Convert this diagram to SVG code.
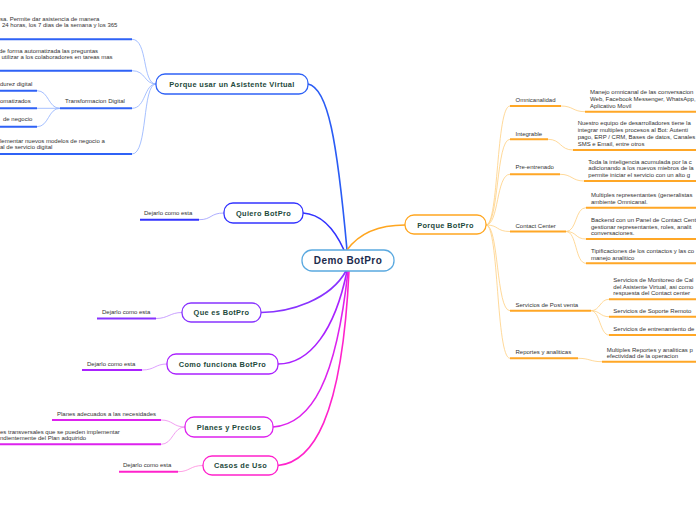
<svg xmlns="http://www.w3.org/2000/svg" width="696" height="520" viewBox="0 0 696 520">
<style>
.t{font-family:"Liberation Sans",Arial,sans-serif;font-size:6px;fill:#333}
.n{font-family:"Liberation Sans",Arial,sans-serif;font-weight:bold;font-size:7.4px;letter-spacing:0.35px;fill:#1d4a3c;text-anchor:middle}
.c{font-family:"Liberation Sans",Arial,sans-serif;font-weight:bold;font-size:10px;letter-spacing:0.4px;fill:#1c2b4d;text-anchor:middle}
.box{fill:#fff;stroke-width:1.3}
.ul{fill:none;stroke-width:2}
.lc{fill:none;stroke-width:0.8}
.mc{fill:none;stroke-width:1.6}
</style>
<rect width="696" height="520" fill="#fff"/>
<g id="connectors">
<path class="mc" stroke="#2a5cf5" d="M347,250 C337,140 328,88 308,84"/>
<path class="mc" stroke="#3333ff" d="M344,250 C334,228 320,214 303,213"/>
<path class="mc" stroke="#8833ff" d="M346,271 C330,300 290,312 261,312.5"/>
<path class="mc" stroke="#aa22ff" d="M347,271 C335,330 310,364 278,364"/>
<path class="mc" stroke="#dd22ee" d="M348,271 C336,380 312,424 273,427"/>
<path class="mc" stroke="#ff22cc" d="M349,271 C342,420 312,462 278,465.5"/>
<path class="mc" stroke="#ffa620" d="M347,250 C360,232 380,225 405,225"/>
<path class="lc" stroke="#8fb0ff" d="M132,39.3 C148,39.3 142,84 156,84"/>
<path class="lc" stroke="#8fb0ff" d="M132,70.7 C146,70.7 144,84 156,84"/>
<path class="lc" stroke="#8fb0ff" d="M132,108.3 C146,108.3 144,84 156,84"/>
<path class="lc" stroke="#8fb0ff" d="M132,154 C148,154 142,84 156,84"/>
<path class="lc" stroke="#8fb0ff" d="M37,90.7 C49,90.7 48,108.3 60,108.3"/>
<path class="lc" stroke="#8fb0ff" d="M37,108.3 L60,108.3"/>
<path class="lc" stroke="#8fb0ff" d="M37,126.7 C49,126.7 48,108.3 60,108.3"/>
<path class="ul" stroke="#2f62f6" d="M0,39.3 H132 M0,70.7 H132 M60,108.3 H132 M0,154 H132 M0,90.7 H37 M0,108.3 H37 M0,126.7 H37"/>
<path class="lc" stroke="#9999ff" d="M199,219.7 C212,219.7 210,213 224,213"/>
<path class="ul" stroke="#3333ff" d="M140,219.7 H199"/>
<path class="lc" stroke="#bb88ff" d="M156,318.5 C168,318.5 170,312.5 182,312.5"/>
<path class="ul" stroke="#8833ff" d="M97,318.5 H156"/>
<path class="lc" stroke="#d488ff" d="M142,370 C155,370 155,364 167,364"/>
<path class="ul" stroke="#aa22ff" d="M82,370 H142"/>
<path class="lc" stroke="#ee88ee" d="M161,420 C173,420 173,427 185,427"/>
<path class="lc" stroke="#ee88ee" d="M161,444.3 C173,444.3 173,427 185,427"/>
<path class="ul" stroke="#dd22ee" d="M52,420 H161 M0,444.3 H161"/>
<path class="lc" stroke="#ff88dd" d="M178,471.7 C190,471.7 190,465.5 203,465.5"/>
<path class="ul" stroke="#ff22cc" d="M119,471.7 H178"/>
<g class="lc" stroke="#ffcf80">
<path d="M486,225 C499,225 496,106 510,106"/>
<path d="M486,225 C499,225 496,139.3 510,139.3"/>
<path d="M486,225 C499,225 496,174.3 510,174.3"/>
<path d="M486,225 C499,225 496,231.5 510,231.5"/>
<path d="M486,225 C499,225 496,310.7 510,310.7"/>
<path d="M486,225 C499,225 496,358.3 510,358.3"/>
<path d="M561,106 C573,106 573,111.7 585,111.7"/>
<path d="M548,139.3 C561,139.3 560,150 573,150"/>
<path d="M560,174.3 C572,174.3 572,181 584,181"/>
<path d="M566,231.5 C577,231.5 575,207.7 586,207.7"/>
<path d="M566,231.5 C577,231.5 575,239 586,239"/>
<path d="M566,231.5 C577,231.5 575,263.3 586,263.3"/>
<path d="M591,310.7 C600,310.7 600,299.3 609,299.3"/>
<path d="M591,310.7 C600,310.7 600,316.7 609,316.7"/>
<path d="M591,310.7 C600,310.7 600,335 609,335"/>
<path d="M578,358.3 C590,358.3 590,361.7 602,361.7"/>
</g>
<path class="ul" stroke="#ffa726" d="M510,106 H561 M510,139.3 H548 M510,174.3 H560 M510,231.5 H566 M510,310.7 H591 M510,358.3 H578 M585,111.7 H696 M573,150 H696 M584,181 H696 M586,207.7 H696 M586,239 H696 M586,263.3 H696 M609,299.3 H696 M609,316.7 H696 M609,335 H696 M602,361.7 H696"/>
</g>
<g id="center">
<rect class="box" x="302" y="250" width="92" height="21" rx="10" stroke="#5aa9e0"/>
<text class="c" x="348" y="264">Demo BotPro</text>
</g>
<g id="porque-usar">
<rect class="box" x="156" y="74" width="152" height="20" rx="9" stroke="#2f62f6"/>
<text class="n" x="232" y="86.7">Porque usar un Asistente Virtual</text>
<text class="t" x="0" y="20.5">sa. Permite dar asistencia de manera</text>
<text class="t" x="2" y="27">24 horas, los 7 dias de la semana y los 365</text>
<text class="t" x="-1" y="52.7">de forma automatizada las preguntas</text>
<text class="t" x="1.5" y="58.9">utilizar a los colaboradores en tareas mas</text>
<text class="t" x="65" y="103">Transformacion Digital</text>
<text class="t" x="0" y="85.5">durez digital</text>
<text class="t" x="0" y="103">omatizados</text>
<text class="t" x="3" y="121.3">de negocio</text>
<text class="t" x="0" y="143">lementar nuevos modelos de negocio a</text>
<text class="t" x="0" y="149">al de servicio digital</text>
</g>
<g id="quiero">
<rect class="box" x="224" y="203" width="79" height="20" rx="9" stroke="#3333ff"/>
<text class="n" x="263.5" y="215.7">Quiero BotPro</text>
<text class="t" x="144" y="215">Dejarlo como esta</text>
</g>
<g id="que-es">
<rect class="box" x="182" y="303" width="79" height="19" rx="9" stroke="#8833ff"/>
<text class="n" x="221.5" y="315.2">Que es BotPro</text>
<text class="t" x="102" y="314">Dejarlo como esta</text>
</g>
<g id="como-funciona">
<rect class="box" x="167" y="354" width="111" height="20" rx="9" stroke="#aa22ff"/>
<text class="n" x="222.5" y="366.7">Como funciona BotPro</text>
<text class="t" x="87" y="366">Dejarlo como esta</text>
</g>
<g id="planes">
<rect class="box" x="185" y="417" width="88" height="20" rx="9" stroke="#dd22ee"/>
<text class="n" x="229" y="429.7">Planes y Precios</text>
<text class="t" x="57" y="416">Planes adecuados a las necesidades</text>
<text class="t" x="0" y="433.5">es transversales que se pueden implementar</text>
<text class="t" x="0" y="440">ndientemente del Plan adquirido</text>
</g>
<g id="casos">
<rect class="box" x="203" y="456" width="75" height="19" rx="9" stroke="#ff22cc"/>
<text class="n" x="240.5" y="468.2">Casos de Uso</text>
<text class="t" x="123" y="467">Dejarlo como esta</text>
</g>
<g id="porque-botpro">
<rect class="box" x="405" y="215" width="81" height="19" rx="9" stroke="#ffa620"/>
<text class="n" x="445.5" y="227.7">Porque BotPro</text>
<text class="t" x="515.5" y="102">Omnicanalidad</text>
<text class="t" x="590" y="94.3">Manejo omnicanal de las conversacion</text>
<text class="t" x="590" y="101">Web, Facebook Messenger, WhatsApp,</text>
<text class="t" x="590" y="107.7">Aplicativo Movil</text>
<text class="t" x="515.5" y="136.3">Integrable</text>
<text class="t" x="577.7" y="125.3">Nuestro equipo de desarrolladores tiene la</text>
<text class="t" x="577.7" y="132">integrar multiples procesos al Bot: Autenti</text>
<text class="t" x="577.7" y="138.8">pago, ERP / CRM, Bases de datos, Canales</text>
<text class="t" x="577.7" y="145.5">SMS e Email, entre otros</text>
<text class="t" x="515.5" y="169.3">Pre-entrenado</text>
<text class="t" x="588.3" y="163.7">Toda la inteligencia acumulada por la c</text>
<text class="t" x="588.3" y="170.3">adicionando a los nuevos miebros de la</text>
<text class="t" x="588.3" y="177">permite iniciar el servicio con un alto g</text>
<text class="t" x="515.5" y="228">Contact Center</text>
<text class="t" x="591" y="196.5">Multiples representantes (generalistas</text>
<text class="t" x="591" y="203.5">ambiente Omnicanal.</text>
<text class="t" x="591" y="222">Backend con un Panel de Contact Cent</text>
<text class="t" x="591" y="228.7">gestionar representantes, roles, analit</text>
<text class="t" x="591" y="235.3">conversaciones.</text>
<text class="t" x="591" y="253">Tipificaciones de los contactos y las co</text>
<text class="t" x="591" y="259.5">manejo analitico</text>
<text class="t" x="515.5" y="306.7">Servicios de Post venta</text>
<text class="t" x="613.3" y="282">Servicios de Monitoreo de Cal</text>
<text class="t" x="613.3" y="288.7">del Asistente Virtual, asi como</text>
<text class="t" x="613.3" y="295.3">respuesta del Contact center</text>
<text class="t" x="613.3" y="313.3">Servicios de Soporte Remoto</text>
<text class="t" x="613.3" y="331">Servicios de entrenamiento de</text>
<text class="t" x="515.5" y="354.3">Reportes y analiticas</text>
<text class="t" x="606.7" y="352">Multiples Reportes y analiticas p</text>
<text class="t" x="606.7" y="358">efectividad de la operacion</text>
</g>
</svg>
